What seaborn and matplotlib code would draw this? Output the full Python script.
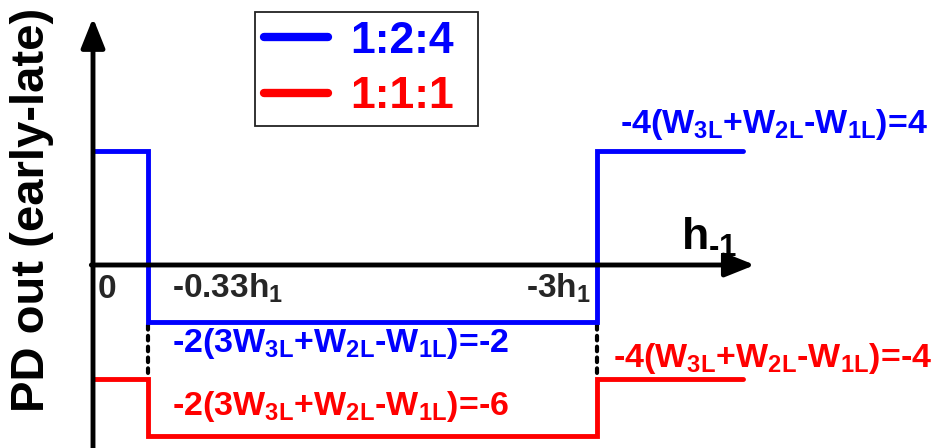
import matplotlib
matplotlib.use("Agg")
import matplotlib.pyplot as plt
import numpy as np
import pandas as pd
import seaborn as sns
from matplotlib.lines import Line2D

# Breakpoints along the h_-1 axis, in multiples of |h1|
x_breaks = [0.0, 0.33, 3.0, 3.87]
ratios = ["1:2:4", "1:1:1"]
blue_levels = [4, -2, 4, 4]
red_levels = [-4, -6, -4, -4]
tick_labels = ["0", "-0.33h$_1$", "-3h$_1$"]
blue_notes = ["-4(W$_{3L}$+W$_{2L}$-W$_{1L}$)=4",
              "-2(3W$_{3L}$+W$_{2L}$-W$_{1L}$)=-2"]
red_notes = ["-4(W$_{3L}$+W$_{2L}$-W$_{1L}$)=-4",
             "-2(3W$_{3L}$+W$_{2L}$-W$_{1L}$)=-6"]
palette = {"1:2:4": "#0000ff", "1:1:1": "#ff0000"}

df = pd.DataFrame({
    "x": x_breaks * 2,
    "y": blue_levels + red_levels,
    "ratio": [ratios[0]] * len(x_breaks) + [ratios[1]] * len(x_breaks),
})

sns.set_style("white")
plt.rcParams["font.family"] = ["Liberation Sans", "DejaVu Sans"]
plt.rcParams["font.weight"] = "bold"
plt.rcParams["mathtext.fontset"] = "custom"
plt.rcParams["mathtext.rm"] = "Liberation Sans:bold"
plt.rcParams["mathtext.bf"] = "Liberation Sans:bold"
plt.rcParams["mathtext.it"] = "Liberation Sans:bold"
plt.rcParams["mathtext.default"] = "regular"

W, H = 934, 448
fig = plt.figure(figsize=(W / 100, H / 100), dpi=100)
ax = fig.add_axes([0, 0, 1, 1])
ax.set_axis_off()

sns.lineplot(data=df, x="x", y="y", hue="ratio", palette=palette,
             estimator=None, sort=False, legend=False, ax=ax,
             drawstyle="steps-post", lw=3.5,
             solid_joinstyle="miter", solid_capstyle="round", zorder=3)

ax.set_xlim(-0.5536, 5.006)
ax.set_ylim(-6.421, 9.298)

# dotted connectors between the two traces at each transition
for xb in x_breaks[1:3]:
    ax.plot([xb, xb], [blue_levels[1] - 0.1, red_levels[0]], color="black",
            lw=3.0, linestyle=(0, (1.1, 1.5)), dash_capstyle="round", zorder=2)

# coordinate axes with arrow heads
arrow = dict(arrowstyle="-|>,head_length=0.4,head_width=0.16",
             mutation_scale=45, lw=3.5, color="black",
             shrinkA=0, shrinkB=0)
ax.annotate("", xy=(0, 8.67), xytext=(0, -7.0), arrowprops=arrow,
            annotation_clip=False, zorder=4)
ax.annotate("", xy=(3.94, 0), xytext=(-0.01, 0), arrowprops=arrow,
            annotation_clip=False, zorder=4)

# axis labels
ax.text(3.50, 0.526, r"h$_{\text{-1}}$", fontsize=32, ha="left",
        va="baseline", color="black")
fig.text(32 / W, 1 - 210 / H, "PD out (early-late)", rotation=90,
         ha="center", va="center", fontsize=34, color="black")

# tick labels under the x axis
ax.text(x_breaks[0] + 0.03, -1.16, tick_labels[0], fontsize=24,
        ha="left", va="baseline")
ax.text(x_breaks[1] + 0.14, -1.16, tick_labels[1], fontsize=24,
        ha="left", va="baseline")
ax.text(x_breaks[2] - 0.04, -1.16, tick_labels[2], fontsize=24,
        ha="right", va="baseline")

# level annotations
note_fs = 24.5
ax.text(x_breaks[2] + 0.137, blue_levels[0] + 0.63, blue_notes[0],
        fontsize=note_fs, color=palette["1:2:4"], ha="left", va="baseline")
ax.text(x_breaks[1] + 0.14, blue_levels[1] - 1.05, blue_notes[1],
        fontsize=note_fs, color=palette["1:2:4"], ha="left", va="baseline")
ax.text(x_breaks[2] + 0.095, red_levels[0] + 0.42, red_notes[0],
        fontsize=note_fs, color=palette["1:1:1"], ha="left", va="baseline")
ax.text(x_breaks[1] + 0.14, red_levels[1] + 0.74, red_notes[1],
        fontsize=note_fs, color=palette["1:1:1"], ha="left", va="baseline")

handles = [Line2D([], [], color=palette[r], lw=6, solid_capstyle="round")
           for r in ratios]
leg = ax.legend(handles, ratios, loc="upper left", mode="expand",
                bbox_to_anchor=(255 / W, 1 - 120 / H, 223 / W, 108 / H),
                bbox_transform=fig.transFigure, borderaxespad=0,
                fontsize=32, frameon=True, fancybox=False, framealpha=1,
                edgecolor="#222222", handlelength=1.45, handletextpad=0.5,
                borderpad=0.2, labelspacing=0.32)
leg.get_frame().set_linewidth(1.3)
for txt, r in zip(leg.get_texts(), ratios):
    txt.set_color(palette[r])

fig.savefig("out.png", dpi=100)
